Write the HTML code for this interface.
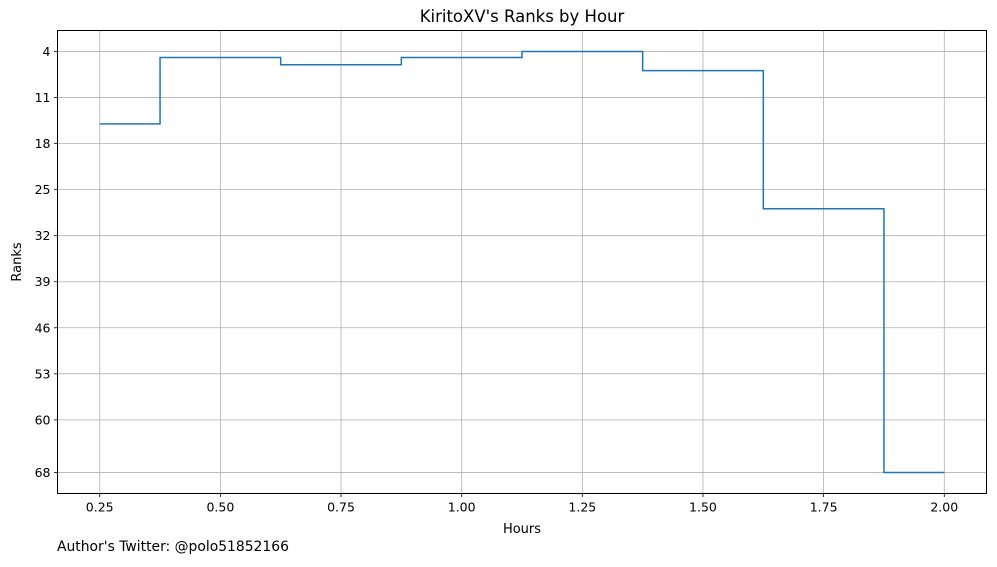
<!DOCTYPE html>
<html><head><meta charset="utf-8"><style>
html,body{margin:0;padding:0;background:#fff;}
text{font-family:"DejaVu Sans","Liberation Sans",sans-serif;}
</style></head><body>
<svg id="chart" width="997" height="562" xmlns="http://www.w3.org/2000/svg">
<rect width="997" height="562" fill="#fff"/>
<g id="grid"></g>
<g id="series"></g>
<rect x="57.5" y="30.5" width="929" height="463" fill="none" stroke="#000" stroke-width="1"/>
<g id="xticks"></g>
<g id="yticks"></g>
<text x="522" y="22" text-anchor="middle" font-size="16.5">KiritoXV's Ranks by Hour</text>
<text x="522" y="533" text-anchor="middle" font-size="13">Hours</text>
<text transform="translate(21,262) rotate(-90)" text-anchor="middle" font-size="13">Ranks</text>
<text x="57" y="551" font-size="13.9">Author's Twitter: @polo51852166</text>
</svg>
<script>
const hours = [0.25, 0.5, 0.75, 1.0, 1.25, 1.5, 1.75, 2.0];
const ranks = [15, 4.9, 6, 4.9, 4, 6.9, 27.9, 68];
const xTickLabels = ["0.25","0.50","0.75","1.00","1.25","1.50","1.75","2.00"];
const yTickLabels = [4, 11, 18, 25, 32, 39, 46, 53, 60, 68];

const NS = "http://www.w3.org/2000/svg";
const L = 57.5, R = 986.5, T = 30.5, B = 493.5;
const xMin = 0.1625, xMax = 2.0875;
const yMin = 0.8, yMax = 71.2;
const xs = v => L + (v - xMin) / (xMax - xMin) * (R - L);
const ys = v => T + (v - yMin) / (yMax - yMin) * (B - T);
function mk(tag, attrs, parent) {
  const e = document.createElementNS(NS, tag);
  for (const k in attrs) e.setAttribute(k, attrs[k]);
  parent.appendChild(e);
  return e;
}
const grid = document.getElementById('grid');
const xt = document.getElementById('xticks');
const yt = document.getElementById('yticks');
xTickLabels.forEach(s => {
  const x = xs(parseFloat(s));
  const g = mk('line', {x1:x, x2:x, y1:T, y2:B, stroke:'#b0b0b0', 'stroke-width':0.8}, grid);
  
  
  mk('line', {x1:x, x2:x, y1:B, y2:B+3.5, stroke:'#000', 'stroke-width':0.8}, xt);
  const t = mk('text', {x:x, y:B+18, 'text-anchor':'middle', 'font-size':12.5}, xt);
  t.textContent = s;
  
  
});
yTickLabels.forEach(v => {
  const y = ys(v);
  const g = mk('line', {x1:L, x2:R, y1:y, y2:y, stroke:'#b0b0b0', 'stroke-width':0.8}, grid);
  
  
  mk('line', {x1:L-3.5, x2:L, y1:y, y2:y, stroke:'#000', 'stroke-width':0.8}, yt);
  const t = mk('text', {x:L-7, y:y+4.5, 'text-anchor':'end', 'font-size':12.5}, yt);
  t.textContent = v;
  
  
});
let d = '';
for (let i = 0; i < hours.length; i++) {
  const y = ys(ranks[i]);
  const xa = i === 0 ? xs(hours[0]) : xs((hours[i-1] + hours[i]) / 2);
  const xb = i === hours.length - 1 ? xs(hours[i]) : xs((hours[i] + hours[i+1]) / 2);
  d += (i === 0 ? 'M' : 'L') + xa + ',' + y + 'L' + xb + ',' + y;
}
const p = mk('path', {d:d, fill:'none', stroke:'#1f77b4', 'stroke-width':1.5}, document.getElementById('series'));


</script>
</body></html>
